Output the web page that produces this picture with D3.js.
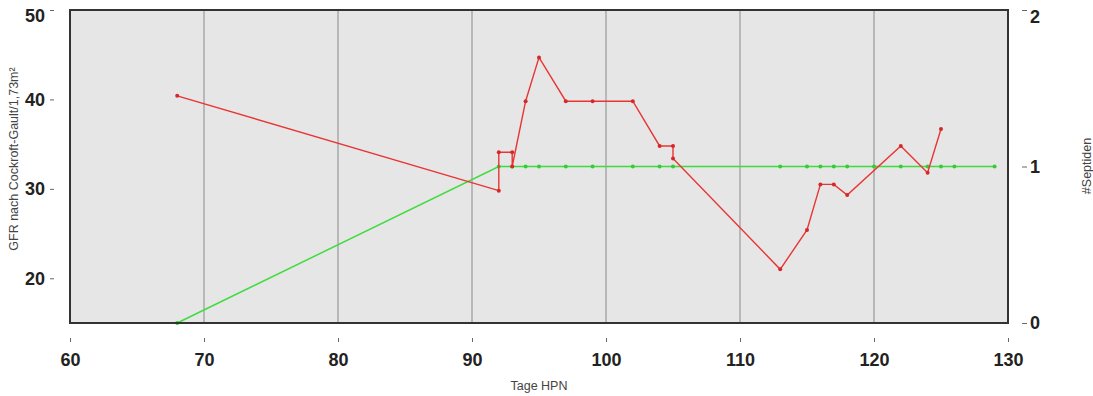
<!DOCTYPE html>
<html>
<head>
<meta charset="utf-8">
<script src="https://cdn.jsdelivr.net/npm/d3@7"></script>
<style>
  body { margin: 0; background: #ffffff; }
  text { font-family: "Liberation Sans", Arial, sans-serif; }
</style>
</head>
<body>
<svg id="chart" width="1093" height="396"></svg>
<script>
// GFR (Cockroft-Gault, per 1.73 m²) over days of home parenteral nutrition
const gfrDays   = [68, 92, 92, 93, 93, 94, 95, 97, 99, 102, 104, 105, 105, 113, 115, 116, 117, 118, 122, 124, 125];
const gfrValues = [40.4, 29.8, 34.1, 34.1, 32.5, 39.8, 44.7, 39.8, 39.8, 39.8, 34.8, 34.8, 33.4, 21.0, 25.4, 30.5, 30.5, 29.3, 34.8, 31.8, 36.7];

// Number of septic episodes recorded on the same time axis
const sepDays   = [68, 92, 93, 94, 95, 97, 99, 102, 104, 105, 113, 115, 116, 117, 118, 120, 122, 124, 125, 126, 129];
const sepValues = [0, 1, 1, 1, 1, 1, 1, 1, 1, 1, 1, 1, 1, 1, 1, 1, 1, 1, 1, 1, 1];

const xTicks   = [60, 70, 80, 90, 100, 110, 120, 130];
const gridDays = [70, 80, 90, 100, 110, 120];
const gfrTicks = [20, 30, 40, 50];
const sepTicks = [0, 1, 2];

const xTitle = "Tage HPN";
const yLeftTitle = "GFR nach Cockroft-Gault/1,73m²";
const yRightTitle = "#Septiden";

const panel = { left: 70, right: 1008, top: 10, bottom: 323 };

const svg = d3.select("#chart");

const x  = d3.scaleLinear().domain([60, 130]).range([panel.left, panel.right]);
const yL = d3.scaleLinear().domain([15, 50]).range([panel.bottom, panel.top]);
const yR = d3.scaleLinear().domain([0, 2]).range([panel.bottom, panel.top]);

// panel background
svg.append("rect")
  .attr("x", panel.left).attr("y", panel.top)
  .attr("width", panel.right - panel.left).attr("height", panel.bottom - panel.top)
  .attr("fill", "#e6e6e6");

// vertical grid lines
svg.append("g").selectAll("line").data(gridDays).join("line")
  .attr("x1", d => x(d)).attr("x2", d => x(d))
  .attr("y1", panel.top).attr("y2", panel.bottom)
  .attr("stroke", "#a8a8a8").attr("stroke-width", 1.5);

// septic episodes series (right axis)
const sepPts = sepDays.map((d, i) => [d, sepValues[i]]);
svg.append("path")
  .datum(sepPts)
  .attr("fill", "none").attr("stroke", "#3fdc3f").attr("stroke-width", 1.5)
  .attr("d", d3.line().x(d => x(d[0])).y(d => yR(d[1])));
svg.append("g").selectAll("circle").data(sepPts).join("circle")
  .attr("cx", d => x(d[0])).attr("cy", d => yR(d[1])).attr("r", 2)
  .attr("fill", "#35cc35");

// GFR series (left axis)
const gfrPts = gfrDays.map((d, i) => [d, gfrValues[i]]);
svg.append("path")
  .datum(gfrPts)
  .attr("fill", "none").attr("stroke", "#ea3434").attr("stroke-width", 1.4)
  .attr("d", d3.line().x(d => x(d[0])).y(d => yL(d[1])));
svg.append("g").selectAll("circle").data(gfrPts).join("circle")
  .attr("cx", d => x(d[0])).attr("cy", d => yL(d[1])).attr("r", 2)
  .attr("fill", "#d62828");

// panel border
svg.append("rect")
  .attr("x", panel.left).attr("y", panel.top)
  .attr("width", panel.right - panel.left).attr("height", panel.bottom - panel.top)
  .attr("fill", "none").attr("stroke", "#333333").attr("stroke-width", 2);

function styleAxis(g) {
  g.select(".domain").remove();
  g.selectAll(".tick line").attr("stroke", "#666666").attr("stroke-width", 1);
  g.selectAll(".tick text")
    .attr("fill", "#222222")
    .style("font-size", "18px")
    .style("font-weight", "bold");
}

// bottom axis, detached below the panel
svg.append("g")
  .attr("transform", "translate(0,338)")
  .call(d3.axisBottom(x).tickValues(xTicks).tickFormat(d3.format("d")).tickSize(4).tickPadding(11))
  .call(styleAxis);

// left axis; top label kept inside the drawing area
svg.append("g")
  .attr("transform", "translate(54,0)")
  .call(d3.axisLeft(yL).tickValues(gfrTicks).tickFormat(d3.format("d")).tickSize(4).tickPadding(5))
  .call(styleAxis)
  .call(g => g.selectAll(".tick text")
    .attr("transform", d => `translate(0,${Math.max(0, 16 - yL(d))})`));

// right axis
svg.append("g")
  .attr("transform", "translate(1022,0)")
  .call(d3.axisRight(yR).tickValues(sepTicks).tickFormat(d3.format("d")).tickSize(5).tickPadding(3))
  .call(styleAxis)
  .call(g => g.selectAll(".tick text")
    .attr("transform", d => `translate(0,${Math.max(0, 17 - yR(d))})`));

// axis titles
svg.append("text")
  .attr("x", (panel.left + panel.right) / 2).attr("y", 390)
  .attr("text-anchor", "middle")
  .attr("fill", "#444444").style("font-size", "12.5px")
  .text(xTitle);

svg.append("text")
  .attr("transform", "translate(18,159) rotate(-90)")
  .attr("text-anchor", "middle")
  .attr("fill", "#444444").style("font-size", "12.5px")
  .text(yLeftTitle);

svg.append("text")
  .attr("transform", "translate(1091,166) rotate(-90)")
  .attr("text-anchor", "middle")
  .attr("fill", "#444444").style("font-size", "12.5px")
  .text(yRightTitle);
</script>
</body>
</html>
